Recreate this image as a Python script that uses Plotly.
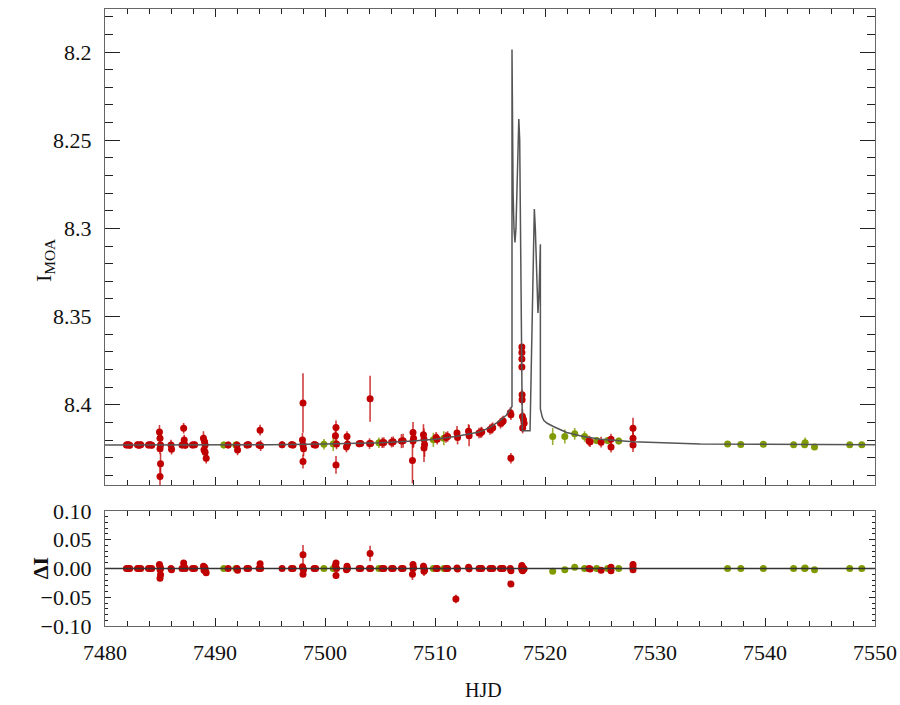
import plotly.graph_objects as go

# ---------------- data ----------------
# Red data set: time (HJD-2450000), magnitude, error, residual
red_t = [7481.95, 7482.1, 7482.25, 7482.95, 7483.1, 7483.25, 7483.95, 7484.1, 7484.25,
         7484.95, 7485.0, 7485.05, 7485.0, 7485.05, 7485.0,
         7486.0, 7486.05,
         7487.15, 7487.0, 7487.2, 7487.3,
         7487.95, 7488.15,
         7488.95, 7489.05, 7489.1, 7489.0, 7489.1, 7489.2,
         7491.2, 7492.05, 7492.0, 7492.9, 7493.05,
         7494.1, 7494.0, 7494.15,
         7496.1, 7496.95, 7497.1,
         7498.0, 7497.95, 7498.0, 7498.05, 7498.0,
         7499.0, 7499.15,
         7501.0, 7500.95, 7501.05, 7501.0,
         7502.0, 7502.05, 7501.95,
         7503.1, 7503.25,
         7504.1, 7504.05, 7504.15,
         7505.2, 7505.35, 7506.05, 7506.2, 7506.95, 7507.1,
         7508.0, 7508.05, 7508.0, 7507.95,
         7508.95, 7509.0, 7509.05, 7509.0,
         7510.1, 7510.2, 7511.0, 7511.15, 7511.9,
         7512.0, 7512.05, 7513.05, 7513.1,
         7514.0, 7514.15, 7514.25, 7515.0, 7515.15, 7515.25,
         7515.95, 7516.1, 7516.2, 7516.85, 7516.9, 7516.9,
         7517.9, 7517.9, 7517.9, 7517.9, 7517.92, 7517.92, 7517.95, 7518.05, 7518.1, 7517.97,
         7524.0, 7524.1, 7525.1, 7526.0, 7526.0,
         7528.0, 7528.0, 7528.0]
red_mag = [8.4228, 8.4226, 8.4229, 8.4227, 8.4229, 8.4226, 8.4228, 8.4227, 8.4229,
           8.4155, 8.4190, 8.4228, 8.4250, 8.4335, 8.4407,
           8.4228, 8.4252,
           8.4133, 8.4228, 8.4200, 8.4230,
           8.4228, 8.4227,
           8.4190, 8.4210, 8.4228, 8.4255, 8.4269, 8.4303,
           8.4228, 8.4256, 8.4228, 8.4228, 8.4226,
           8.4144, 8.4228, 8.4232,
           8.4227, 8.4226, 8.4228,
           8.3990, 8.4200, 8.4228, 8.4250, 8.4322,
           8.4226, 8.4228,
           8.4129, 8.4175, 8.4222, 8.4341,
           8.4180, 8.4222, 8.4240,
           8.4221, 8.4220,
           8.3966, 8.4220, 8.4219,
           8.4215, 8.4214, 8.4212, 8.4210, 8.4206, 8.4204,
           8.4157, 8.4190, 8.4205, 8.4316,
           8.4170, 8.4195, 8.4225, 8.4245,
           8.4185, 8.4195, 8.4185, 8.4180, 8.4710,
           8.4160, 8.4185, 8.4150, 8.4175,
           8.4160, 8.4158, 8.4155, 8.4140, 8.4135, 8.4130,
           8.4105, 8.4098, 8.4092, 8.4045, 8.4057, 8.4303,
           8.3672, 8.3703, 8.3740, 8.3786, 8.3943, 8.3972, 8.4066, 8.4085, 8.4105, 8.4132,
           8.4205, 8.4210, 8.4212, 8.4195, 8.4240,
           8.4133, 8.4190, 8.4228]
red_err = [0.002, 0.002, 0.002, 0.002, 0.002, 0.002, 0.002, 0.002, 0.002,
           0.004, 0.004, 0.003, 0.003, 0.006, 0.006,
           0.003, 0.003,
           0.003, 0.002, 0.003, 0.002,
           0.002, 0.002,
           0.004, 0.004, 0.003, 0.003, 0.003, 0.003,
           0.002, 0.003, 0.002, 0.002, 0.002,
           0.003, 0.002, 0.003,
           0.002, 0.002, 0.002,
           0.0168, 0.004, 0.003, 0.004, 0.004,
           0.002, 0.002,
           0.004, 0.004, 0.003, 0.005,
           0.003, 0.003, 0.003,
           0.002, 0.002,
           0.013, 0.003, 0.002,
           0.003, 0.003, 0.003, 0.003, 0.004, 0.004,
           0.006, 0.005, 0.004, 0.013,
           0.006, 0.006, 0.007, 0.008,
           0.003, 0.003, 0.003, 0.003, 0.0075,
           0.004, 0.004, 0.004, 0.006,
           0.003, 0.003, 0.003, 0.003, 0.003, 0.003,
           0.003, 0.003, 0.003, 0.003, 0.003, 0.003,
           0.0015, 0.0015, 0.0015, 0.0015, 0.003, 0.003, 0.004, 0.004, 0.003, 0.003,
           0.003, 0.003, 0.003, 0.003, 0.003,
           0.006, 0.005, 0.004]
red_res = [0.0, 0.0, 0.0, 0.0, 0.0, 0.0, 0.0, 0.0, 0.0,
           0.007, 0.003, 0.0, -0.002, -0.011, -0.017,
           0.0, -0.002,
           0.0095, 0.0, 0.003, 0.0,
           0.0, 0.0,
           0.004, 0.002, 0.0, -0.003, -0.004, -0.0075,
           0.0, -0.003, 0.0, 0.0, 0.0,
           0.0084, 0.0, 0.0,
           0.0, 0.0, 0.0,
           0.024, 0.003, 0.0, -0.002, -0.010,
           0.0, 0.0,
           0.0095, 0.005, 0.0, -0.012,
           0.004, 0.0, -0.002,
           0.0, 0.0,
           0.026, 0.0, 0.0,
           0.0, 0.0, 0.0, 0.0, 0.0, 0.0,
           0.007, 0.0015, 0.0, -0.010,
           0.004, 0.0, -0.003, -0.005,
           0.0, 0.0, 0.0, 0.0, -0.053,
           0.001, -0.001, 0.002, -0.0005,
           0.0, 0.0, 0.0, 0.0, 0.0, 0.0,
           0.0, 0.0, 0.0, 0.0, -0.004, -0.027,
           0.005, 0.003, 0.0, -0.002, 0.003, 0.0, 0.002, 0.0, -0.001, -0.004,
           0.0, -0.001, -0.003, 0.002, -0.004,
           0.007, 0.002, -0.002]
red_res_err = [0.002, 0.002, 0.002, 0.002, 0.002, 0.002, 0.002, 0.002, 0.002,
               0.004, 0.004, 0.003, 0.003, 0.004, 0.004,
               0.003, 0.003,
               0.003, 0.002, 0.003, 0.002,
               0.002, 0.002,
               0.004, 0.004, 0.003, 0.003, 0.003, 0.003,
               0.002, 0.003, 0.002, 0.002, 0.002,
               0.003, 0.002, 0.003,
               0.002, 0.002, 0.002,
               0.0168, 0.004, 0.003, 0.004, 0.004,
               0.002, 0.002,
               0.004, 0.004, 0.003, 0.005,
               0.003, 0.003, 0.003,
               0.002, 0.002,
               0.0136, 0.003, 0.002,
               0.003, 0.003, 0.003, 0.003, 0.004, 0.004,
               0.006, 0.005, 0.004, 0.010,
               0.006, 0.006, 0.007, 0.008,
               0.003, 0.003, 0.003, 0.003, 0.0075,
               0.004, 0.004, 0.004, 0.006,
               0.003, 0.003, 0.003, 0.003, 0.003, 0.003,
               0.003, 0.003, 0.003, 0.003, 0.003, 0.003,
               0.0015, 0.0015, 0.0015, 0.0015, 0.003, 0.003, 0.004, 0.004, 0.003, 0.003,
               0.003, 0.003, 0.003, 0.003, 0.003,
               0.006, 0.005, 0.004]

# Green data set
green_t = [7490.8, 7491.9, 7499.9, 7500.75, 7504.9, 7509.85, 7510.8,
           7520.7, 7521.8, 7522.7, 7523.6, 7524.7, 7525.7, 7526.7,
           7536.6, 7537.8, 7539.85, 7542.6, 7543.6, 7543.65, 7544.5, 7547.7, 7548.8]
green_mag = [8.4228, 8.4228, 8.4224, 8.4222, 8.4215, 8.4199, 8.4190,
             8.4180, 8.4180, 8.4165, 8.4180, 8.4203, 8.4203, 8.4206,
             8.4222, 8.4225, 8.4224, 8.4226, 8.4226, 8.4215, 8.4240, 8.4226, 8.4227]
green_err = [0.002, 0.002, 0.003, 0.004, 0.003, 0.004, 0.004,
             0.0048, 0.004, 0.0033, 0.003, 0.002, 0.002, 0.002,
             0.0015, 0.0015, 0.0015, 0.0015, 0.0015, 0.003, 0.0015, 0.0015, 0.0015]
green_res = [0.0, 0.0, 0.0, 0.0, 0.0, 0.0, 0.0,
             -0.005, -0.002, 0.002, 0.0, 0.0, 0.0, 0.0,
             0.0, 0.0, 0.0, 0.0, 0.0, 0.001, -0.002, 0.0, 0.0]
green_res_err = [0.002, 0.002, 0.002, 0.002, 0.002, 0.002, 0.002,
                 0.002, 0.002, 0.002, 0.002, 0.002, 0.002, 0.002,
                 0.0015, 0.0015, 0.0015, 0.0015, 0.0015, 0.002, 0.0015, 0.0015, 0.0015]

# Model light curve
model_t = [7480, 7490, 7495, 7500, 7505, 7508, 7510, 7512, 7513, 7514, 7515, 7515.9,
           7516.5, 7516.9, 7517.0, 7517.0, 7517.04, 7517.1, 7517.18, 7517.27, 7517.36,
           7517.46, 7517.56, 7517.62, 7517.7, 7517.8, 7517.94, 7518.64, 7518.9, 7519.03,
           7519.12, 7519.25, 7519.36, 7519.45, 7519.52, 7519.58, 7519.58, 7519.65,
           7519.75, 7519.9, 7520.2, 7520.76, 7521.97, 7523.48, 7525.0, 7528.03, 7531.06,
           7534.1, 7540, 7550]
model_mag = [8.4228, 8.4228, 8.4226, 8.4223, 8.4215, 8.4205, 8.4195, 8.4178, 8.4168,
             8.4155, 8.4128, 8.4090, 8.4058, 8.4025, 8.4010, 8.1985, 8.245, 8.280, 8.300,
             8.308, 8.300, 8.270, 8.243, 8.238, 8.250, 8.320, 8.4148, 8.4148, 8.330, 8.289,
             8.300, 8.335, 8.348, 8.338, 8.315, 8.309, 8.4023, 8.4045, 8.4070, 8.4090,
             8.4105, 8.4123, 8.4157, 8.4180, 8.4195, 8.4210, 8.4218, 8.4222, 8.4224, 8.4226]

# Axis ticks
x_range = [7480, 7550]
top_y_range = [8.4455, 8.1756]
top_tickvals = [8.2, 8.25, 8.3, 8.35, 8.4]
top_ticktext = ["8.2", "8.25", "8.3", "8.35", "8.4"]
res_y_range = [-0.1, 0.1]
res_tickvals = [0.10, 0.05, 0.0, -0.05, -0.10]
res_ticktext = ["0.10", "0.05", "0.00", "\u22120.05", "\u22120.10"]

# ---------------- styling ----------------
RED = "#c00000"
RED_ERR = "rgba(192,0,0,0.75)"
GREEN = "#7f9b00"
GREEN_ERR = "rgba(127,155,0,0.8)"
FONT = "'Liberation Serif', 'Times New Roman', 'DejaVu Serif', serif"

fig = go.Figure()

def pts(x, y, e, col, ecol, xa, ya):
    return go.Scatter(x=x, y=y, mode="markers", xaxis=xa, yaxis=ya,
                      marker=dict(color=col, size=7, line=dict(width=0)),
                      error_y=dict(type="data", array=e, visible=True, color=ecol,
                                   thickness=1.6, width=0),
                      hoverinfo="skip", showlegend=False)

# top panel
fig.add_trace(pts(green_t, green_mag, green_err, GREEN, GREEN_ERR, "x", "y"))
fig.add_trace(pts(red_t, red_mag, red_err, RED, RED_ERR, "x", "y"))
fig.add_trace(go.Scatter(x=model_t, y=model_mag, mode="lines", xaxis="x", yaxis="y",
                         line=dict(color="#555555", width=1.5), hoverinfo="skip",
                         showlegend=False))
# residual panel
fig.add_trace(pts(green_t, green_res, green_res_err, GREEN, GREEN_ERR, "x2", "y2"))
fig.add_trace(pts(red_t, red_res, red_res_err, RED, RED_ERR, "x2", "y2"))

axis_common = dict(showline=True, linecolor="#666666", linewidth=1.2, mirror="ticks",
                   ticks="inside", tickcolor="#222222", tickwidth=1.2,
                   showgrid=False, zeroline=False, automargin=False,
                   tickfont=dict(family=FONT, size=22, color="#111111"))

fig.update_layout(
    template="none",
    width=900, height=705,
    margin=dict(l=105, r=25, t=9, b=79, pad=0),
    paper_bgcolor="white", plot_bgcolor="white",
    showlegend=False,
    xaxis=dict(domain=[0, 1], range=x_range, anchor="y", dtick=10, ticklen=8,
               showticklabels=False,
               minor=dict(dtick=2, ticklen=5, ticks="inside", tickcolor="#222222"),
               **axis_common),
    yaxis=dict(domain=[0.2285, 1], range=top_y_range, anchor="x",
               tickvals=top_tickvals, ticktext=top_ticktext, ticklen=15,
               ticklabelstandoff=8,
               minor=dict(dtick=0.01, tick0=8.2, ticklen=8, ticks="inside",
                          tickcolor="#222222"),
               **axis_common),
    xaxis2=dict(domain=[0, 1], range=x_range, anchor="y2", dtick=10, ticklen=8,
                ticklabelstandoff=6,
                minor=dict(dtick=2, ticklen=5, ticks="inside", tickcolor="#222222"),
                **axis_common),
    yaxis2=dict(domain=[0, 0.1864], range=res_y_range, anchor="x2",
                tickvals=res_tickvals, ticktext=res_ticktext, ticklen=6,
                ticklabelstandoff=8,
                minor=dict(dtick=0.01, tick0=0, ticklen=3, ticks="inside",
                           tickcolor="#222222"),
                **axis_common),
    shapes=[dict(type="line", xref="x2 domain", yref="y2", x0=0, x1=1, y0=0, y1=0,
                 line=dict(color="#333333", width=1.5), layer="above")],
    annotations=[
        dict(text="I<sub>MOA</sub>", xref="paper", yref="paper", x=-0.078, y=0.593,
             xanchor="center", yanchor="middle", textangle=-90, showarrow=False,
             font=dict(family=FONT, size=22, color="#111111")),
        dict(text="<b>ΔI</b>", xref="paper", yref="paper", x=-0.084, y=0.094,
             xanchor="center", yanchor="middle", textangle=-90, showarrow=False,
             font=dict(family=FONT, size=22, color="#111111")),
        dict(text="HJD", xref="paper", yref="paper", x=0.491, y=-0.1037,
             xanchor="center", yanchor="middle", showarrow=False,
             font=dict(family=FONT, size=20, color="#111111")),
    ],
)

fig.write_html("out.html", config={"displayModeBar": False},
               post_script="document.body.style.margin='0';")
